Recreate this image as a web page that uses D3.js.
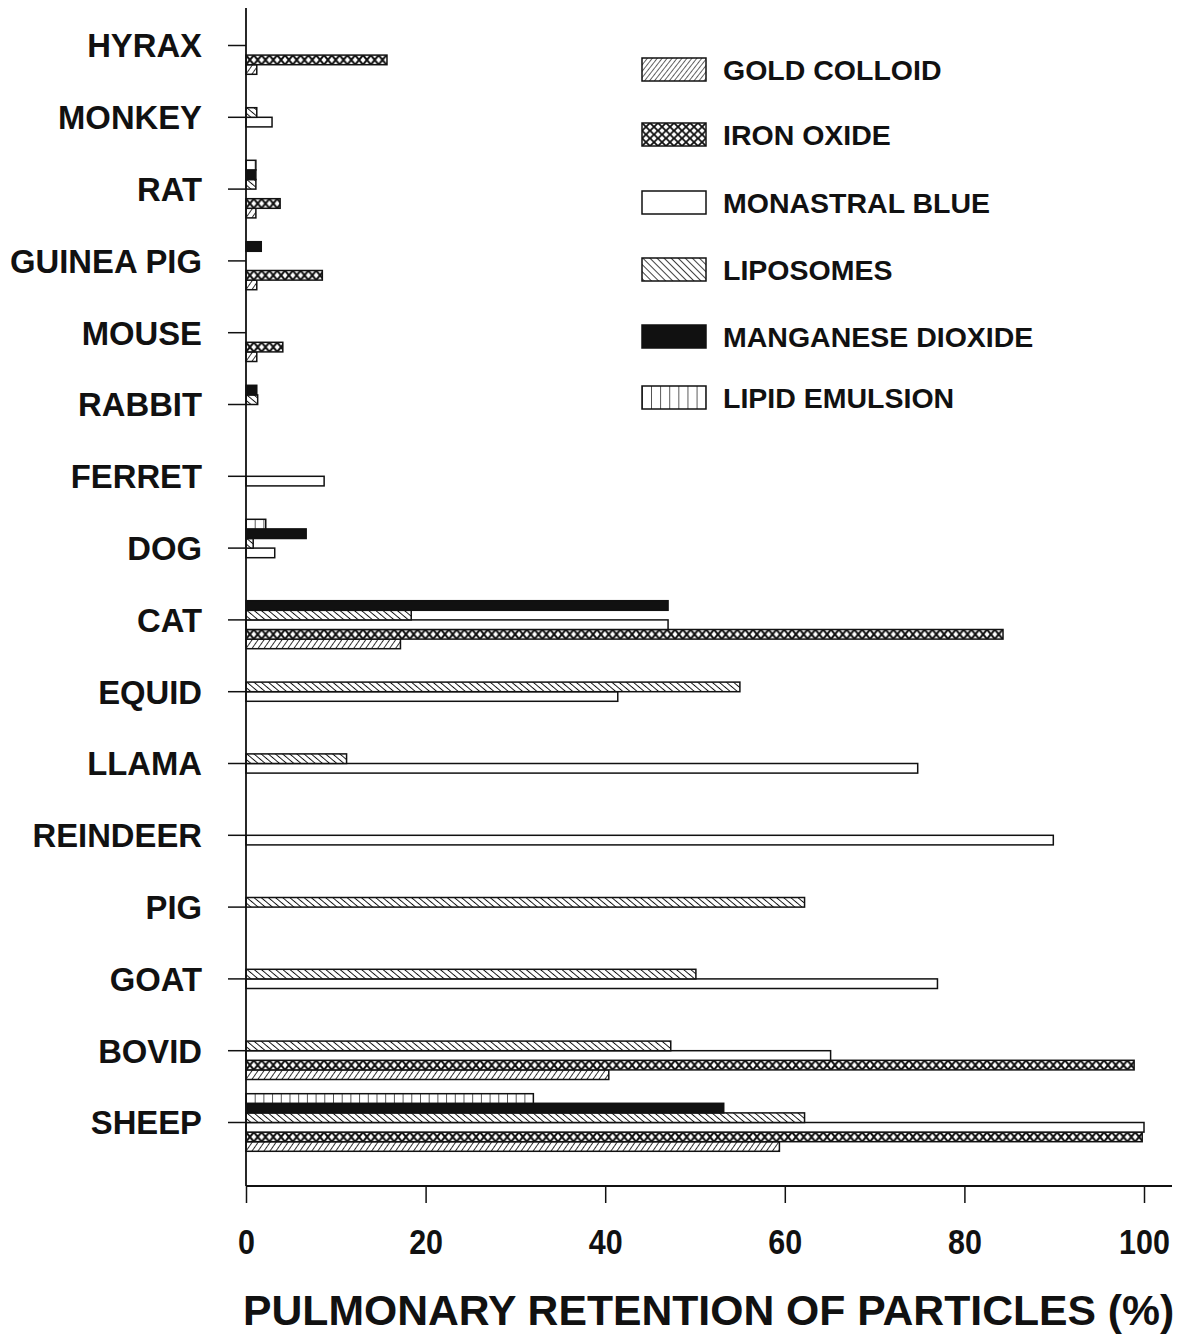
<!DOCTYPE html>
<html>
<head>
<meta charset="utf-8">
<script src="https://cdn.jsdelivr.net/npm/d3@7"></script>
<style>
  body { margin: 0; background: #fff; }
  svg { display: block; }
  text { font-family: "Liberation Sans", Arial, Helvetica, sans-serif; font-weight: bold; fill: #111; }
</style>
</head>
<body>
<svg id="chart" width="1181" height="1334"></svg>
<script>
// Species, listed top to bottom
const categories = ["HYRAX", "MONKEY", "RAT", "GUINEA PIG", "MOUSE", "RABBIT", "FERRET", "DOG",
  "CAT", "EQUID", "LLAMA", "REINDEER", "PIG", "GOAT", "BOVID", "SHEEP"];

// Pulmonary retention (%) per particle type; null = not measured
const goldColloid      = [1.2, null, 1.1, 1.2, 1.2, null, null, null, 17.2, null, null, null, null, null, 40.4, 59.4];
const ironOxide        = [15.7, null, 3.8, 8.5, 4.1, null, null, null, 84.3, null, null, null, null, null, 98.9, 99.8];
const monastralBlue    = [null, 2.9, null, null, null, null, 8.7, 3.2, 47.0, 41.4, 74.8, 89.9, null, 77.0, 65.1, 100.0];
const liposomes        = [null, 1.2, 1.1, null, null, 1.3, null, 0.8, 18.4, 55.0, 11.2, null, 62.2, 50.1, 47.3, 62.2];
const manganeseDioxide = [null, null, 1.1, 1.7, null, 1.2, null, 6.7, 47.0, null, null, null, null, null, null, 53.2];
const lipidEmulsion    = [null, null, 1.1, null, null, null, null, 2.2, null, null, null, null, null, null, null, 32.0];

const xTicks = [0, 20, 40, 60, 80, 100];

// Series as listed in the legend
const legendSeries = [
  { name: "GOLD COLLOID",      key: "gold",  values: goldColloid },
  { name: "IRON OXIDE",        key: "iron",  values: ironOxide },
  { name: "MONASTRAL BLUE",    key: "blue",  values: monastralBlue },
  { name: "LIPOSOMES",         key: "lipo",  values: liposomes },
  { name: "MANGANESE DIOXIDE", key: "mno2",  values: manganeseDioxide },
  { name: "LIPID EMULSION",    key: "lipid", values: lipidEmulsion }
];
// Order of the bars inside each species group, top to bottom
const barOrder = ["lipid", "mno2", "lipo", "blue", "iron", "gold"];

const svg = d3.select("#chart");
const INK = "#111";

// ---- scales ----
const x = d3.scaleLinear().domain([0, 100]).range([246, 1144]);
const y = d3.scaleBand().domain(categories).range([9.6, 1158.4]).padding(0);
const groupH = 57.6;
const inner = d3.scaleBand().domain(barOrder).range([-groupH / 2, groupH / 2]).padding(0);
const barH = inner.bandwidth();

const axisY = 1186, axisTop = 8, axisRight = 1172;

// ---- fill patterns (userSpaceOnUse, so each bar is drawn inside its own translated group) ----
const defs = svg.append("defs");

function stripes(id, period, angle, width) {
  const p = defs.append("pattern").attr("id", id)
    .attr("patternUnits", "userSpaceOnUse")
    .attr("width", period).attr("height", period)
    .attr("patternTransform", `rotate(${angle})`);
  p.append("rect").attr("width", period).attr("height", period).attr("fill", "#fff");
  p.append("line").attr("x1", 0).attr("y1", -1).attr("x2", 0).attr("y2", period + 1)
    .attr("stroke", INK).attr("stroke-width", width);
}
function diamonds(id, w, h, width) {
  const p = defs.append("pattern").attr("id", id)
    .attr("patternUnits", "userSpaceOnUse").attr("width", w).attr("height", h);
  p.append("rect").attr("width", w).attr("height", h).attr("fill", "#fff");
  p.append("path").attr("d", `M0,0L${w},${h}M${w},0L0,${h}`)
    .attr("stroke", INK).attr("stroke-width", width).attr("fill", "none");
}
function verticals(id, w, width) {
  const p = defs.append("pattern").attr("id", id)
    .attr("patternUnits", "userSpaceOnUse").attr("width", w).attr("height", 40);
  p.append("rect").attr("width", w).attr("height", 40).attr("fill", "#fff");
  p.append("line").attr("x1", 0).attr("y1", 0).attr("x2", 0).attr("y2", 40)
    .attr("stroke", INK).attr("stroke-width", width);
}

stripes("p-gold", 4.9, 35, 1.7);
stripes("p-lipo", 4.6, -50, 1.9);
diamonds("p-iron", 7.8, barH, 2.0);
verticals("p-lipid", 8.7, 1.4);
// legend swatches use slightly larger tiles
stripes("l-gold", 3.9, 38, 1.3);
stripes("l-lipo", 5.0, -45, 1.6);
diamonds("l-iron", 8, 23 / 3, 1.8);
verticals("l-lipid", 9.1, 1.4);

const fillFor = {
  bar:    { gold: "url(#p-gold)", iron: "url(#p-iron)", blue: "#fff", lipo: "url(#p-lipo)", mno2: INK, lipid: "url(#p-lipid)" },
  legend: { gold: "url(#l-gold)", iron: "url(#l-iron)", blue: "#fff", lipo: "url(#l-lipo)", mno2: INK, lipid: "url(#l-lipid)" }
};

// ---- bars ----
const bars = [];
legendSeries.forEach(s => {
  s.values.forEach((v, i) => {
    if (v != null) bars.push({ key: s.key, cat: categories[i], value: v });
  });
});

svg.append("g").attr("class", "bars")
  .selectAll("g")
  .data(bars)
  .join("g")
  .attr("transform", d => `translate(${x(0)},${y(d.cat) + y.bandwidth() / 2 + inner(d.key)})`)
  .append("rect")
  .attr("x", 0).attr("y", 0)
  .attr("width", d => x(d.value) - x(0))
  .attr("height", barH)
  .attr("fill", d => fillFor.bar[d.key])
  .attr("stroke", INK).attr("stroke-width", 1.5);

// ---- axes ----
const yAxis = d3.axisLeft(y).tickSize(18).tickPadding(26);
const gy = svg.append("g").attr("transform", `translate(${x(0)},0)`).call(yAxis);
gy.select(".domain").remove();
gy.selectAll(".tick line").attr("stroke", INK).attr("stroke-width", 1.5);
gy.selectAll(".tick text").attr("font-size", 32.8).attr("dy", "0.36em").style("fill", INK);

const xAxis = d3.axisBottom(x).tickValues(xTicks).tickSize(17).tickFormat(d3.format("d"));
const gx = svg.append("g").attr("transform", `translate(0,${axisY})`).call(xAxis);
gx.select(".domain").remove();
gx.selectAll(".tick line").attr("stroke", INK).attr("stroke-width", 1.5);
gx.selectAll(".tick text")
  .attr("y", null).attr("dy", null)
  .attr("transform", "translate(0,68) scale(0.87,1)")
  .attr("font-size", 35).style("fill", INK);

svg.append("line").attr("x1", x(0)).attr("x2", x(0)).attr("y1", axisTop).attr("y2", axisY)
  .attr("stroke", INK).attr("stroke-width", 1.8);
svg.append("line").attr("x1", x(0)).attr("x2", axisRight).attr("y1", axisY).attr("y2", axisY)
  .attr("stroke", INK).attr("stroke-width", 1.8);

svg.append("text")
  .attr("x", 243).attr("y", 1325)
  .attr("font-size", 42.7)
  .text("PULMONARY RETENTION OF PARTICLES (%)");

// ---- legend ----
const legendTops = [58, 123, 191, 258, 325, 386];
const legend = svg.append("g").attr("class", "legend")
  .selectAll("g")
  .data(legendSeries)
  .join("g")
  .attr("transform", (d, i) => `translate(642,${legendTops[i]})`);

legend.append("rect")
  .attr("width", 64).attr("height", 23)
  .attr("fill", d => fillFor.legend[d.key])
  .attr("stroke", INK).attr("stroke-width", 1.5);

legend.append("text")
  .attr("x", 81).attr("y", 21.5)
  .attr("font-size", 28.5)
  .text(d => d.name);
</script>
</body>
</html>
